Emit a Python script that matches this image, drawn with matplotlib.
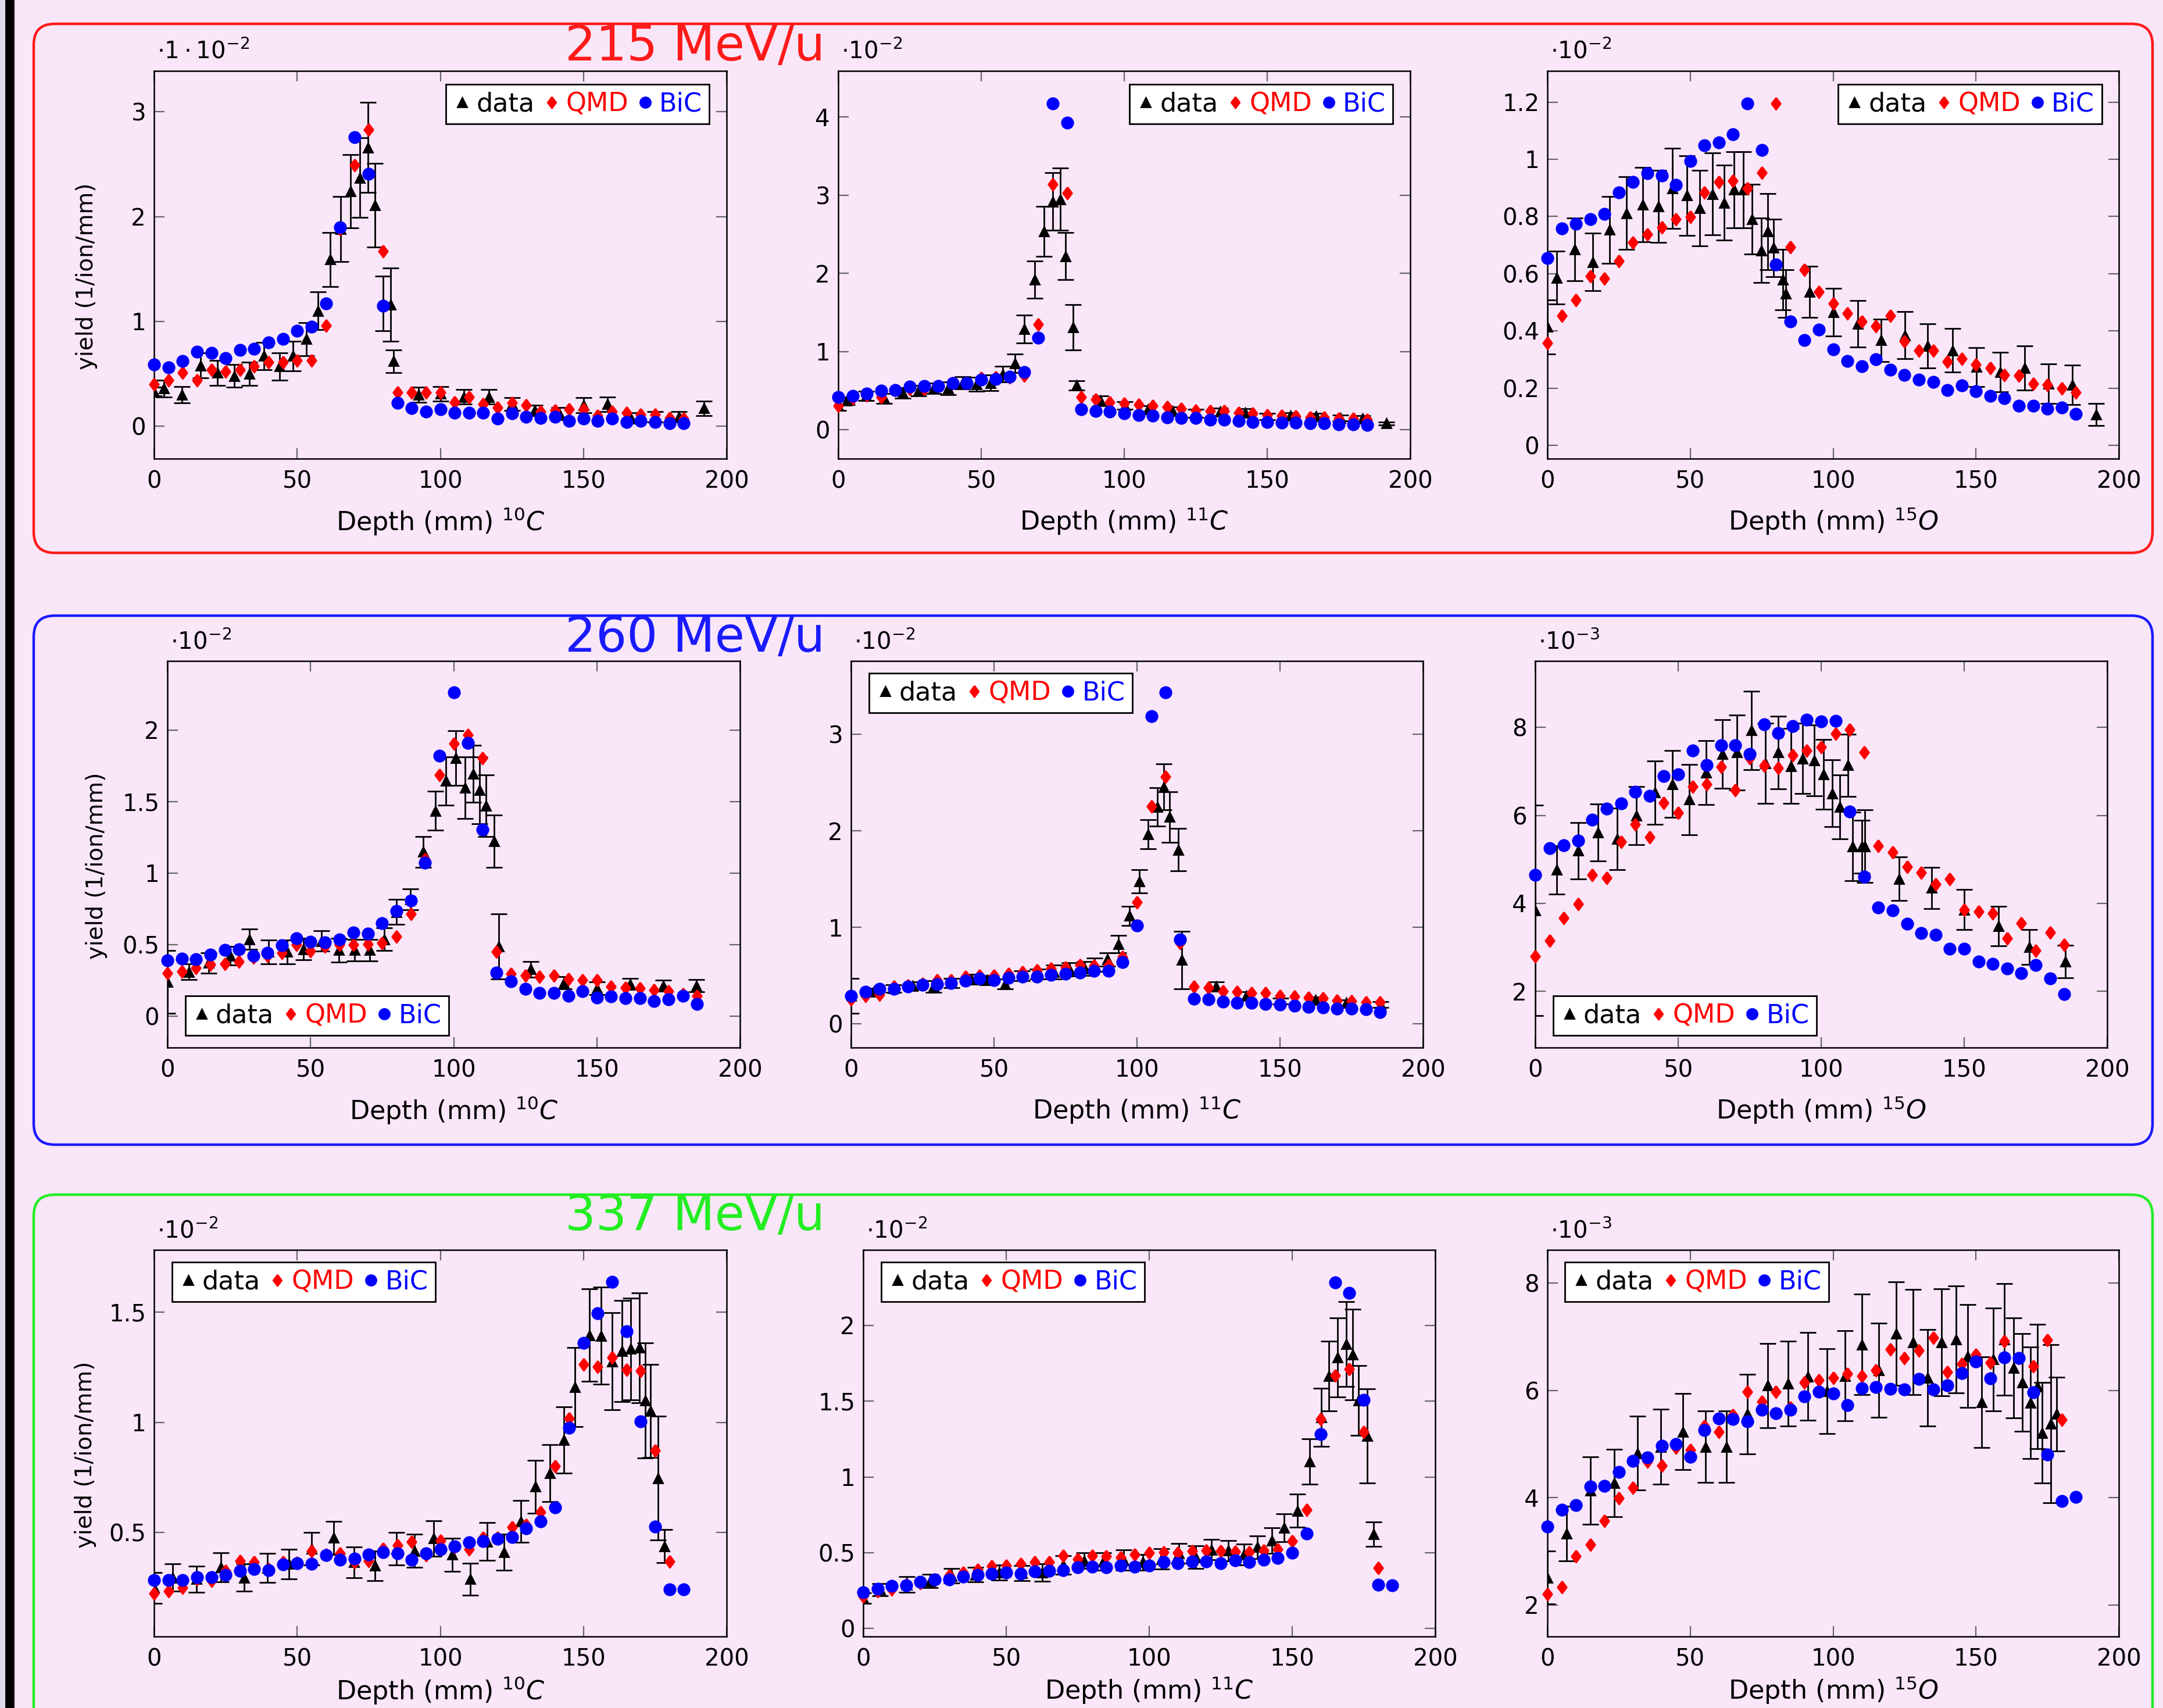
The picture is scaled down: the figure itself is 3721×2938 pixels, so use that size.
import numpy as np
import matplotlib.pyplot as plt
from matplotlib.lines import Line2D
from matplotlib.patches import FancyBboxPatch, Rectangle
from matplotlib.ticker import FuncFormatter

W, H = 3721, 2938
DPI = 200

plt.rcParams['font.family'] = ['DejaVu Sans']
plt.rcParams['mathtext.fontset'] = 'dejavusans'

BG = '#F9E6F8'
DIAMOND = [(0, 1), (0.75, 0), (0, -1), (-0.75, 0), (0, 1)]

# depth grid of the simulated points (mm)
DEPTH = [0, 5, 10, 15, 20, 25, 30, 35, 40, 45, 50, 55, 60, 65, 70, 75, 80, 85, 90,
         95, 100, 105, 110, 115, 120, 125, 130, 135, 140, 145, 150, 155, 160, 165,
         170, 175, 180, 185]

# ---------------------------- 215 MeV/u -------------------------------
c10_215_x = [0, 3.4, 9.8, 16.2, 22.2, 28.0, 33.4, 38.4, 43.8, 48.5, 53.2, 57.3, 61.5, 65.2,
             68.6, 71.8, 74.8, 77.2, 79.9, 82.6, 83.6, 92.3, 100.1, 108.3, 117.0, 125.0,
             133.0, 141.5, 150.0, 158.4, 166.5, 175.0, 183.3, 192.0]
c10_215_y = [0.33, 0.36, 0.30, 0.58, 0.51, 0.48, 0.50, 0.67, 0.57, 0.67, 0.83, 1.10, 1.59,
             1.88, 2.24, 2.37, 2.66, 2.11, 1.17, 1.16, 0.62, 0.30, 0.31, 0.28, 0.28, 0.21,
             0.15, 0.12, 0.20, 0.21, 0.08, 0.09, 0.09, 0.17]
c10_215_err = [0.04, 0.08, 0.08, 0.12, 0.12, 0.11, 0.11, 0.13, 0.13, 0.14, 0.16, 0.18, 0.26,
               0.31, 0.35, 0.38, 0.43, 0.40, 0.26, 0.35, 0.11, 0.07, 0.07, 0.07, 0.07, 0.06,
               0.05, 0.06, 0.07, 0.07, 0.05, 0.05, 0.05, 0.07]
c10_215_qmd = [0.40, 0.44, 0.51, 0.44, 0.54, 0.52, 0.54, 0.57, 0.61, 0.61, 0.63, 0.63, 0.96,
               1.88, 2.49, 2.83, 1.67, 0.32, 0.32, 0.32, 0.32, 0.23, 0.28, 0.21, 0.18, 0.22,
               0.20, 0.14, 0.15, 0.16, 0.16, 0.10, 0.14, 0.13, 0.11, 0.11, 0.08, 0.07]
c10_215_bic = [0.59, 0.56, 0.62, 0.71, 0.70, 0.65, 0.73, 0.74, 0.80, 0.83, 0.91, 0.95, 1.17,
               1.90, 2.76, 2.41, 1.15, 0.22, 0.17, 0.14, 0.16, 0.13, 0.13, 0.13, 0.07, 0.12,
               0.09, 0.08, 0.09, 0.05, 0.07, 0.05, 0.07, 0.04, 0.05, 0.04, 0.03, 0.03]

c11_215_x = [0, 3.1, 9.8, 16.0, 22.5, 28.0, 33.4, 38.4, 43.5, 48.3, 53.2, 57.6, 61.7, 65.1,
             68.7, 72.0, 75.1, 77.6, 79.4, 82.2, 83.4, 91.7, 100.2, 108.3, 116.8, 125.0,
             133.6, 142.2, 150.0, 158.2, 167.0, 175.6, 183.4, 191.6]
c11_215_y = [0.31, 0.37, 0.43, 0.40, 0.47, 0.50, 0.53, 0.53, 0.60, 0.58, 0.60, 0.71, 0.85,
             1.29, 1.92, 2.54, 2.92, 2.95, 2.22, 1.31, 0.57, 0.37, 0.31, 0.26, 0.24, 0.21,
             0.23, 0.22, 0.17, 0.18, 0.17, 0.15, 0.14, 0.08]
c11_215_err = [0.06, 0.05, 0.06, 0.06, 0.07, 0.07, 0.07, 0.08, 0.08, 0.09, 0.10, 0.10, 0.12,
               0.18, 0.24, 0.32, 0.37, 0.40, 0.30, 0.29, 0.06, 0.06, 0.05, 0.05, 0.05, 0.05,
               0.05, 0.05, 0.04, 0.04, 0.04, 0.04, 0.04, 0.02]
c11_215_qmd = [0.31, 0.40, 0.44, 0.42, 0.51, 0.52, 0.52, 0.56, 0.60, 0.60, 0.66, 0.67, 0.67,
               0.69, 1.35, 3.14, 3.03, 0.42, 0.39, 0.35, 0.34, 0.32, 0.31, 0.29, 0.27, 0.25,
               0.24, 0.24, 0.22, 0.21, 0.19, 0.18, 0.17, 0.16, 0.16, 0.14, 0.14, 0.13]
c11_215_bic = [0.42, 0.43, 0.46, 0.50, 0.51, 0.55, 0.56, 0.56, 0.60, 0.60, 0.64, 0.65, 0.68,
               0.74, 1.18, 4.17, 3.93, 0.26, 0.24, 0.23, 0.21, 0.19, 0.18, 0.16, 0.15, 0.15,
               0.13, 0.13, 0.11, 0.10, 0.10, 0.09, 0.09, 0.08, 0.08, 0.07, 0.07, 0.06]

o15_215_x = [0, 3.2, 9.5, 15.8, 21.7, 27.6, 33.3, 38.8, 43.7, 48.8, 53.4, 57.7, 61.8, 65.3,
             68.5, 71.6, 74.8, 77.2, 79.2, 82.3, 83.5, 91.8, 100.2, 108.6, 116.8, 125.2,
             133.1, 141.8, 150.1, 158.5, 167.0, 175.4, 183.7, 192.1]
o15_215_y = [0.414, 0.586, 0.685, 0.641, 0.753, 0.811, 0.842, 0.836, 0.898, 0.873, 0.830,
             0.879, 0.848, 0.894, 0.894, 0.790, 0.681, 0.747, 0.690, 0.579, 0.530, 0.536,
             0.465, 0.425, 0.367, 0.385, 0.348, 0.332, 0.274, 0.256, 0.270, 0.215, 0.212, 0.107]
o15_215_err = [0.095, 0.093, 0.110, 0.100, 0.116, 0.127, 0.130, 0.126, 0.140, 0.139, 0.132,
               0.143, 0.131, 0.133, 0.133, 0.122, 0.113, 0.133, 0.100, 0.105, 0.083, 0.089,
               0.083, 0.081, 0.074, 0.082, 0.077, 0.077, 0.068, 0.069, 0.078, 0.069, 0.069, 0.039]
o15_215_qmd = [0.358, 0.453, 0.507, 0.591, 0.583, 0.644, 0.709, 0.737, 0.762, 0.791, 0.799,
               0.885, 0.920, 0.925, 0.898, 0.953, 1.196, 0.694, 0.614, 0.536, 0.496, 0.462,
               0.432, 0.416, 0.453, 0.363, 0.332, 0.332, 0.293, 0.302, 0.283, 0.270, 0.246,
               0.243, 0.216, 0.212, 0.200, 0.185]
o15_215_bic = [0.654, 0.759, 0.774, 0.790, 0.809, 0.885, 0.921, 0.951, 0.944, 0.910, 0.994,
               1.049, 1.058, 1.088, 1.196, 1.033, 0.632, 0.432, 0.367, 0.404, 0.336, 0.295,
               0.277, 0.301, 0.265, 0.246, 0.230, 0.222, 0.193, 0.210, 0.188, 0.172, 0.165,
               0.138, 0.138, 0.128, 0.132, 0.110]

# ---------------------------- 260 MeV/u -------------------------------
c10_260_x = [0, 7.6, 14.5, 21.9, 28.6, 35.4, 41.9, 47.6, 53.9, 59.9, 65.3, 70.7, 75.8, 80.1,
             84.8, 89.4, 93.6, 97.3, 100.7, 104.0, 106.9, 109.1, 111.3, 114.1, 115.8, 126.9,
             138.5, 150.0, 161.6, 173.1, 184.8]
c10_260_y = [0.24, 0.308, 0.371, 0.422, 0.537, 0.448, 0.448, 0.468, 0.524, 0.461, 0.461,
             0.461, 0.537, 0.728, 0.817, 1.148, 1.435, 1.644, 1.804, 1.598, 1.695, 1.580,
             1.471, 1.224, 0.486, 0.326, 0.232, 0.193, 0.224, 0.211, 0.211]
c10_260_err = [0.22, 0.055, 0.070, 0.066, 0.070, 0.083, 0.085, 0.076, 0.072, 0.083, 0.076,
               0.076, 0.079, 0.086, 0.073, 0.108, 0.136, 0.168, 0.191, 0.216, 0.200, 0.234,
               0.214, 0.183, 0.229, 0.054, 0.044, 0.044, 0.038, 0.038, 0.042]
c10_260_qmd = [0.300, 0.313, 0.338, 0.359, 0.364, 0.379, 0.410, 0.422, 0.443, 0.499, 0.453,
               0.486, 0.499, 0.499, 0.504, 0.511, 0.555, 0.715, 1.097, 1.687, 1.906, 1.967,
               1.802, 0.448, 0.295, 0.282, 0.277, 0.282, 0.257, 0.249, 0.249, 0.206, 0.198,
               0.193, 0.181, 0.173, 0.155, 0.142]
c10_260_bic = [0.389, 0.402, 0.397, 0.430, 0.461, 0.466, 0.422, 0.440, 0.496, 0.545, 0.519,
               0.517, 0.537, 0.583, 0.575, 0.651, 0.733, 0.809, 1.071, 1.822, 2.265, 1.911,
               1.305, 0.305, 0.244, 0.188, 0.163, 0.163, 0.142, 0.173, 0.130, 0.135, 0.125,
               0.125, 0.104, 0.117, 0.142, 0.084]

c11_260_x = [0, 7.9, 14.9, 21.5, 28.9, 35.1, 42.1, 47.6, 53.8, 59.7, 65.2, 70.9, 76.4, 81.8,
             85.2, 89.6, 93.5, 97.4, 100.8, 103.9, 107.2, 109.3, 111.4, 114.5, 115.7, 127.7,
             138.3, 150.3, 162.4, 173.1, 185.2]
c11_260_y = [0.293, 0.331, 0.368, 0.395, 0.387, 0.425, 0.462, 0.455, 0.414, 0.500, 0.519,
             0.538, 0.564, 0.575, 0.613, 0.669, 0.827, 1.120, 1.477, 1.966, 2.248, 2.455,
             2.143, 1.805, 0.662, 0.387, 0.293, 0.237, 0.248, 0.218, 0.199]
c11_260_err = [0.18, 0.04, 0.04, 0.04, 0.06, 0.05, 0.05, 0.05, 0.05, 0.05, 0.05, 0.07, 0.07,
               0.07, 0.07, 0.07, 0.09, 0.10, 0.12, 0.15, 0.20, 0.24, 0.26, 0.22, 0.30, 0.05,
               0.04, 0.03, 0.03, 0.03, 0.03]
c11_260_qmd = [0.256, 0.293, 0.305, 0.387, 0.398, 0.417, 0.455, 0.455, 0.492, 0.500, 0.500,
               0.519, 0.538, 0.556, 0.575, 0.586, 0.613, 0.605, 0.613, 0.695, 1.259, 2.256,
               2.560, 0.838, 0.387, 0.376, 0.342, 0.331, 0.320, 0.320, 0.293, 0.286, 0.274,
               0.267, 0.244, 0.237, 0.226, 0.226]
c11_260_bic = [0.293, 0.331, 0.361, 0.361, 0.387, 0.406, 0.414, 0.425, 0.451, 0.470, 0.455,
               0.481, 0.492, 0.492, 0.508, 0.519, 0.530, 0.549, 0.549, 0.643, 1.019, 3.188,
               3.432, 0.876, 0.263, 0.256, 0.229, 0.218, 0.218, 0.207, 0.199, 0.192, 0.180,
               0.169, 0.162, 0.162, 0.154, 0.124]

o15_260_x = [0, 7.6, 15.0, 22.0, 28.6, 35.3, 41.8, 48.0, 53.8, 59.7, 65.4, 70.6, 75.6, 80.5,
             84.9, 89.4, 93.5, 97.5, 100.8, 103.8, 106.6, 109.3, 110.9, 114.2, 115.3, 127.2,
             138.6, 150.0, 161.9, 172.7, 185.3]
o15_260_y = [3.84, 4.76, 5.20, 5.61, 5.46, 5.99, 6.52, 6.71, 6.36, 6.97, 7.39, 7.43, 7.93,
             7.18, 7.43, 7.12, 7.29, 7.25, 6.93, 6.50, 6.19, 7.14, 5.29, 5.29, 5.30, 4.56,
             4.35, 3.86, 3.48, 3.01, 2.68]
o15_260_err = [2.39, 0.55, 0.64, 0.65, 0.70, 0.66, 0.72, 0.76, 0.80, 0.73, 0.78, 0.85, 0.89,
               0.91, 0.83, 0.85, 0.80, 0.80, 0.79, 0.76, 0.73, 0.71, 0.78, 0.60, 0.82, 0.50,
               0.47, 0.46, 0.45, 0.40, 0.37]
o15_260_qmd = [2.79, 3.15, 3.67, 3.98, 4.64, 4.58, 5.40, 5.79, 5.50, 6.29, 6.06, 6.66, 6.71,
               7.10, 6.58, 7.30, 7.13, 7.08, 7.37, 7.47, 7.55, 7.86, 7.95, 7.43, 5.31, 5.16,
               4.83, 4.70, 4.44, 4.56, 3.86, 3.82, 3.78, 3.20, 3.55, 2.93, 3.34, 3.06]
o15_260_bic = [4.64, 5.26, 5.32, 5.43, 5.90, 6.15, 6.27, 6.54, 6.45, 6.89, 6.93, 7.48, 7.14,
               7.59, 7.59, 7.40, 8.07, 7.87, 8.03, 8.17, 8.13, 8.15, 6.09, 4.61, 3.90, 3.84,
               3.53, 3.33, 3.29, 2.97, 2.97, 2.68, 2.62, 2.52, 2.41, 2.60, 2.30, 1.94]

# ---------------------------- 337 MeV/u -------------------------------
c10_337_x = [0, 6.4, 14.8, 23.3, 31.5, 39.6, 47.2, 55.1, 62.7, 69.9, 77.2, 84.6, 91.0, 97.7,
             104.1, 110.4, 116.3, 122.3, 128.1, 133.1, 138.2, 143.2, 147.1, 152.0, 156.2,
             160.1, 163.4, 166.5, 169.5, 171.5, 173.5, 176.0, 178.2]
c10_337_y = [0.25, 0.296, 0.289, 0.343, 0.296, 0.340, 0.358, 0.427, 0.477, 0.366, 0.350,
             0.427, 0.417, 0.474, 0.400, 0.289, 0.460, 0.412, 0.551, 0.708, 0.770, 0.921,
             1.160, 1.395, 1.392, 1.276, 1.323, 1.333, 1.338, 1.099, 1.052, 0.747, 0.438]
c10_337_err = [0.07, 0.062, 0.060, 0.066, 0.062, 0.065, 0.067, 0.073, 0.075, 0.070, 0.067,
               0.075, 0.075, 0.080, 0.075, 0.072, 0.085, 0.082, 0.096, 0.12, 0.13, 0.15,
               0.18, 0.21, 0.22, 0.22, 0.23, 0.23, 0.25, 0.26, 0.21, 0.28, 0.075]
c10_337_qmd = [0.224, 0.235, 0.250, 0.289, 0.281, 0.327, 0.373, 0.366, 0.335, 0.366, 0.363,
               0.417, 0.400, 0.407, 0.366, 0.373, 0.427, 0.443, 0.458, 0.397, 0.463, 0.435,
               0.424, 0.477, 0.477, 0.525, 0.535, 0.594, 0.801, 1.017, 1.264, 1.253, 1.295,
               1.238, 1.235, 0.872, 0.369]
c10_337_bic = [0.284, 0.284, 0.284, 0.299, 0.299, 0.309, 0.327, 0.335, 0.330, 0.355, 0.361,
               0.358, 0.397, 0.377, 0.381, 0.400, 0.412, 0.407, 0.377, 0.407, 0.424, 0.438,
               0.455, 0.461, 0.471, 0.481, 0.520, 0.551, 0.613, 0.975, 1.361, 1.495, 1.637,
               1.412, 1.005, 0.528, 0.242, 0.242]

c11_337_x = [0, 5.9, 15.2, 23.3, 30.8, 39.3, 47.6, 55.4, 62.7, 70.0, 77.2, 84.0, 91.1, 97.7,
             104.2, 110.4, 116.3, 121.8, 127.6, 133.1, 137.8, 142.8, 147.1, 151.8, 156.0,
             160.1, 162.8, 165.9, 168.9, 171.2, 173.2, 176.3, 178.4]
c11_337_y = [0.202, 0.258, 0.291, 0.314, 0.347, 0.356, 0.370, 0.365, 0.370, 0.419, 0.448,
             0.443, 0.452, 0.437, 0.459, 0.495, 0.470, 0.520, 0.515, 0.488, 0.537, 0.582,
             0.665, 0.777, 1.102, 1.393, 1.664, 1.787, 1.877, 1.807, 1.505, 1.270, 0.623]
c11_337_err = [0.035, 0.040, 0.050, 0.045, 0.048, 0.048, 0.049, 0.050, 0.056, 0.060, 0.053,
               0.057, 0.067, 0.053, 0.067, 0.065, 0.075, 0.067, 0.067, 0.070, 0.074, 0.084,
               0.092, 0.11, 0.15, 0.19, 0.23, 0.26, 0.28, 0.30, 0.23, 0.31, 0.08]
c11_337_qmd = [0.213, 0.246, 0.258, 0.291, 0.302, 0.325, 0.352, 0.370, 0.387, 0.410, 0.414,
               0.426, 0.437, 0.437, 0.481, 0.459, 0.481, 0.477, 0.470, 0.488, 0.499, 0.504,
               0.499, 0.511, 0.515, 0.511, 0.508, 0.504, 0.515, 0.522, 0.576, 0.784, 1.380,
               1.669, 1.713, 1.299, 0.399]
c11_337_bic = [0.240, 0.262, 0.280, 0.284, 0.307, 0.325, 0.325, 0.343, 0.354, 0.363, 0.370,
               0.363, 0.376, 0.381, 0.385, 0.403, 0.408, 0.403, 0.414, 0.408, 0.414, 0.437,
               0.432, 0.441, 0.441, 0.432, 0.452, 0.437, 0.455, 0.466, 0.499, 0.627, 1.283,
               2.282, 2.213, 1.507, 0.291, 0.287]

o15_337_x = [0, 6.7, 15.1, 23.3, 31.5, 39.6, 47.5, 55.3, 62.6, 70.0, 77.2, 84.3, 91.1, 97.8,
             104.1, 110.1, 116.0, 122.0, 127.9, 133.1, 137.9, 143.0, 147.2, 152.0, 156.1,
             160.0, 163.2, 166.2, 169.1, 171.5, 173.1, 176.2, 178.2]
o15_337_y = [2.51, 3.33, 4.13, 4.27, 4.83, 4.95, 5.23, 4.95, 4.95, 5.56, 6.09, 6.13, 6.26,
             5.99, 6.27, 6.86, 6.38, 7.06, 6.90, 6.24, 6.90, 6.95, 6.64, 5.78, 6.58, 6.95,
             6.42, 6.15, 5.77, 6.07, 5.21, 5.38, 5.56]
o15_337_err = [0.49, 0.51, 0.63, 0.63, 0.69, 0.70, 0.71, 0.67, 0.67, 0.74, 0.79, 0.79, 0.82,
               0.79, 0.84, 0.94, 0.88, 0.97, 0.98, 0.90, 1.00, 1.00, 0.96, 0.85, 0.96, 1.04,
               0.93, 0.91, 1.04, 1.16, 0.94, 1.48, 0.69]
o15_337_qmd = [2.20, 2.33, 2.91, 3.12, 3.57, 3.99, 4.19, 4.67, 4.60, 4.94, 4.89, 5.34, 5.23,
               5.54, 5.98, 5.79, 5.98, 5.68, 6.15, 6.19, 6.24, 6.31, 6.27, 6.38, 6.77, 6.61,
               6.75, 6.99, 6.35, 6.50, 6.67, 6.52, 6.92, 6.60, 6.45, 6.94, 5.45]
o15_337_bic = [3.461, 3.779, 3.862, 4.21, 4.22, 4.48, 4.69, 4.75, 4.97, 5.00, 4.76, 5.26, 5.48,
               5.47, 5.42, 5.64, 5.58, 5.64, 5.89, 5.98, 5.94, 5.73, 6.04, 6.06, 6.03, 6.02,
               6.21, 6.02, 6.10, 6.32, 6.54, 6.23, 6.62, 6.61, 5.96, 4.80, 3.94, 4.01]

ENERGIES = ['215 MeV/u', '260 MeV/u', '337 MeV/u']
ENERGY_COLORS = ['#FF1A1A', '#1A1AFF', '#22EE22']
ISOTOPES = [r'$^{10}C$', r'$^{11}C$', r'$^{15}O$']


# ---------------------------- Definitions -------------------------------
def px_axes(fig, x0, x1, y0, y1):
    # axes from pixel box (y measured from the top)
    return fig.add_axes([x0 / W, 1 - y1 / H, (x1 - x0) / W, (y1 - y0) / H])


def draw_panel(ax, dx, dy, derr, qmd, bic, ylim, yticks, iso, offset, loc,
               ylab=None, xlab_y=-0.122):
    ax.set_facecolor('none')
    ax.errorbar(dx, dy, yerr=derr, fmt='^', color='black', ms=6, elinewidth=1.0,
                capsize=5, capthick=1.0, zorder=2)
    ax.plot(DEPTH[:len(qmd)], qmd, ls='none', marker=DIAMOND, color='red', ms=7.5,
            zorder=3, clip_on=False)
    ax.plot(DEPTH[:len(bic)], bic, ls='none', marker='o', color='blue', ms=7,
            zorder=4, clip_on=False)
    ax.set_xlim(0, 200)
    ax.set_ylim(*ylim)
    ax.set_xticks([0, 50, 100, 150, 200])
    ax.set_yticks(yticks)
    ax.yaxis.set_major_formatter(FuncFormatter(lambda v, p: f'{v:g}'))
    ax.tick_params(direction='in', top=True, right=True, length=6.5, width=0.8,
                   color='#666666', labelsize=14.5)
    ax.tick_params(axis='x', pad=7)
    ax.tick_params(axis='y', pad=5)
    for sp in ax.spines.values():
        sp.set_linewidth(0.9)
    ax.set_xlabel('Depth (mm) ' + iso, fontsize=16)
    ax.xaxis.set_label_coords(0.5, xlab_y)
    if ylab is not None:
        ax.set_ylabel('yield (1/ion/mm)', fontsize=14)
        ax.yaxis.set_label_coords(ylab, 0.47)
        ax.yaxis.label.set_va('center')
    ax.text(0.005, 1.018, offset, transform=ax.transAxes, fontsize=14.5,
            ha='left', va='bottom')

    handles = [Line2D([], [], marker='^', ls='none', color='black', ms=6),
               Line2D([], [], marker=DIAMOND, ls='none', color='red', ms=7),
               Line2D([], [], marker='o', ls='none', color='blue', ms=6.5)]
    anchors = {'upper right': (0.97, 0.966), 'upper left': (0.031, 0.968),
               'lower left': (0.031, 0.032)}
    leg = ax.legend(handles, ['data', 'QMD', 'BiC'], ncol=3, loc=loc,
                    bbox_to_anchor=anchors[loc], borderaxespad=0, fontsize=16,
                    fancybox=False, edgecolor='black', framealpha=1,
                    handlelength=0.7, handletextpad=0.2, columnspacing=0.3,
                    borderpad=0.28)
    leg.get_frame().set_linewidth(1.0)
    for t, c in zip(leg.get_texts(), ['black', 'red', 'blue']):
        t.set_color(c)


fig = plt.figure(figsize=(W / DPI, H / DPI), dpi=DPI, facecolor=BG)

# left strip of the slide
fig.add_artist(Rectangle((0, 0), 10 / W, 1, transform=fig.transFigure,
                         color='#DCDCEE', zorder=0))
fig.add_artist(Rectangle((10 / W, 0), 13 / W, 1, transform=fig.transFigure,
                         color='black', zorder=0))

# rounded frames around each energy
BOX_Y = [(41, 951), (1059, 1969), (2055, 3010)]
TITLE_Y = [81, 1097, 2093]
for (y0, y1), col, ty, txt in zip(BOX_Y, ENERGY_COLORS, TITLE_Y, ENERGIES):
    box = FancyBboxPatch((58 / DPI, (H - y1) / DPI), (3703 - 58) / DPI, (y1 - y0) / DPI,
                         boxstyle='round,pad=0,rounding_size=0.18',
                         transform=fig.dpi_scale_trans, fill=False, edgecolor=col,
                         linewidth=1.6, zorder=1)
    fig.add_artist(box)
    fig.text(1196 / W, 1 - ty / H, txt, color=col, fontsize=30, ha='center', va='center')

# row 1 - 215 MeV/u
ax = px_axes(fig, 265, 1250, 122, 789)
draw_panel(ax, c10_215_x, c10_215_y, c10_215_err, c10_215_qmd, c10_215_bic,
           (-0.31, 3.39), [0, 1, 2, 3], ISOTOPES[0], r'$\cdot1\cdot10^{-2}$',
           'upper right', ylab=-0.118)
ax = px_axes(fig, 1442, 2426, 122, 789)
draw_panel(ax, c11_215_x, c11_215_y, c11_215_err, c11_215_qmd, c11_215_bic,
           (-0.37, 4.59), [0, 1, 2, 3, 4], ISOTOPES[1], r'$\cdot10^{-2}$', 'upper right')
ax = px_axes(fig, 2662, 3645, 122, 789)
draw_panel(ax, o15_215_x, o15_215_y, o15_215_err, o15_215_qmd, o15_215_bic,
           (-0.047, 1.309), [0, 0.2, 0.4, 0.6, 0.8, 1.0, 1.2], ISOTOPES[2],
           r'$\cdot10^{-2}$', 'upper right')

# row 2 - 260 MeV/u
ax = px_axes(fig, 288, 1273, 1137, 1802)
draw_panel(ax, c10_260_x, c10_260_y, c10_260_err, c10_260_qmd, c10_260_bic,
           (-0.221, 2.483), [0, 0.5, 1, 1.5, 2], ISOTOPES[0], r'$\cdot10^{-2}$',
           'lower left', ylab=-0.124)
ax = px_axes(fig, 1464, 2448, 1137, 1802)
draw_panel(ax, c11_260_x, c11_260_y, c11_260_err, c11_260_qmd, c11_260_bic,
           (-0.244, 3.759), [0, 1, 2, 3], ISOTOPES[1], r'$\cdot10^{-2}$', 'upper left')
ax = px_axes(fig, 2641, 3625, 1137, 1802)
draw_panel(ax, o15_260_x, o15_260_y, o15_260_err, o15_260_qmd, o15_260_bic,
           (0.722, 9.509), [2, 4, 6, 8], ISOTOPES[2], r'$\cdot10^{-3}$', 'lower left')

# row 3 - 337 MeV/u (labels lifted a little so they stay inside the picture)
ax = px_axes(fig, 265, 1250, 2150, 2815)
draw_panel(ax, c10_337_x, c10_337_y, c10_337_err, c10_337_qmd, c10_337_bic,
           (0.029, 1.782), [0.5, 1, 1.5], ISOTOPES[0], r'$\cdot10^{-2}$',
           'upper left', ylab=-0.12, xlab_y=-0.1)
ax = px_axes(fig, 1485, 2469, 2150, 2815)
draw_panel(ax, c11_337_x, c11_337_y, c11_337_err, c11_337_qmd, c11_337_bic,
           (-0.052, 2.497), [0, 0.5, 1, 1.5, 2], ISOTOPES[1], r'$\cdot10^{-2}$',
           'upper left', xlab_y=-0.1)
ax = px_axes(fig, 2662, 3645, 2150, 2815)
draw_panel(ax, o15_337_x, o15_337_y, o15_337_err, o15_337_qmd, o15_337_bic,
           (1.409, 8.623), [2, 4, 6, 8], ISOTOPES[2], r'$\cdot10^{-3}$',
           'upper left', xlab_y=-0.1)

fig.savefig('out.png', dpi=DPI, facecolor=fig.get_facecolor())
